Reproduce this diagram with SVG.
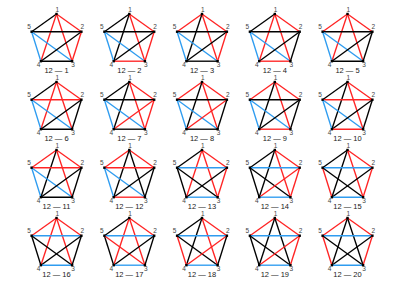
<svg xmlns="http://www.w3.org/2000/svg" xmlns:xlink="http://www.w3.org/1999/xlink" width="397" height="288" viewBox="0 0 397 288">
<style>
.k{stroke:#000;stroke-width:1.35}
.r{stroke:#ff2424;stroke-width:1.35}
.b{stroke:#2e9cf0;stroke-width:1.35}
text{font-family:"Liberation Sans",Arial,sans-serif}
.n text{font-size:6.5px;fill:#444;text-anchor:middle}
.t{font-size:7.5px;fill:#1a1a1a;text-anchor:middle}
</style>
<defs>
<line id="e15" x1="0" y1="-26" x2="-24.9" y2="-8.3"/>
<line id="e12" x1="0" y1="-26" x2="24.9" y2="-8.3"/>
<line id="e14" x1="0" y1="-26" x2="-15.6" y2="21.2"/>
<line id="e13" x1="0" y1="-26" x2="15.6" y2="21.2"/>
<line id="e52" x1="-24.9" y1="-8.3" x2="24.9" y2="-8.3"/>
<line id="e54" x1="-24.9" y1="-8.3" x2="-15.6" y2="21.2"/>
<line id="e53" x1="-24.9" y1="-8.3" x2="15.6" y2="21.2"/>
<line id="e24" x1="24.9" y1="-8.3" x2="-15.6" y2="21.2"/>
<line id="e23" x1="24.9" y1="-8.3" x2="15.6" y2="21.2"/>
<line id="e43" x1="-15.6" y1="21.2" x2="15.6" y2="21.2"/>
<rect id="v" x="-1.2" y="-1.2" width="2.4" height="2.4" fill="#000"/>
</defs>

<g id="graph-12-1" transform="translate(56.5,40)">
<g class="edges"><use href="#e15" class="k"/><use href="#e12" class="r"/><use href="#e14" class="r"/><use href="#e13" class="r"/><use href="#e52" class="k"/><use href="#e54" class="b"/><use href="#e53" class="b"/><use href="#e24" class="k"/><use href="#e23" class="r"/><use href="#e43" class="k"/></g>
<g class="n" id="g1-n1"><use href="#v" x="0" y="-26"/><text x="0.8" y="-28.5">1</text></g>
<g class="n" id="g1-n2"><use href="#v" x="24.9" y="-8.3"/><text x="25.8" y="-10.8">2</text></g>
<g class="n" id="g1-n3"><use href="#v" x="15.6" y="21.2"/><text x="16.6" y="27">3</text></g>
<g class="n" id="g1-n4"><use href="#v" x="-15.6" y="21.2"/><text x="-18" y="27">4</text></g>
<g class="n" id="g1-n5"><use href="#v" x="-24.9" y="-8.3"/><text x="-27.5" y="-10.8">5</text></g>
<text class="t" x="0" y="32.5">12 — 1</text>
</g>

<g id="graph-12-2" transform="translate(129.3,40)">
<g class="edges"><use href="#e15" class="k"/><use href="#e12" class="r"/><use href="#e14" class="k"/><use href="#e13" class="r"/><use href="#e52" class="k"/><use href="#e54" class="b"/><use href="#e53" class="b"/><use href="#e24" class="k"/><use href="#e23" class="r"/><use href="#e43" class="r"/></g>
<g class="n" id="g2-n1"><use href="#v" x="0" y="-26"/><text x="0.8" y="-28.5">1</text></g>
<g class="n" id="g2-n2"><use href="#v" x="24.9" y="-8.3"/><text x="25.8" y="-10.8">2</text></g>
<g class="n" id="g2-n3"><use href="#v" x="15.6" y="21.2"/><text x="16.6" y="27">3</text></g>
<g class="n" id="g2-n4"><use href="#v" x="-15.6" y="21.2"/><text x="-18" y="27">4</text></g>
<g class="n" id="g2-n5"><use href="#v" x="-24.9" y="-8.3"/><text x="-27.5" y="-10.8">5</text></g>
<text class="t" x="0" y="32.5">12 — 2</text>
</g>

<g id="graph-12-3" transform="translate(202,40)">
<g class="edges"><use href="#e15" class="r"/><use href="#e12" class="r"/><use href="#e14" class="k"/><use href="#e13" class="r"/><use href="#e52" class="k"/><use href="#e54" class="b"/><use href="#e53" class="b"/><use href="#e24" class="k"/><use href="#e23" class="r"/><use href="#e43" class="k"/></g>
<g class="n" id="g3-n1"><use href="#v" x="0" y="-26"/><text x="0.8" y="-28.5">1</text></g>
<g class="n" id="g3-n2"><use href="#v" x="24.9" y="-8.3"/><text x="25.8" y="-10.8">2</text></g>
<g class="n" id="g3-n3"><use href="#v" x="15.6" y="21.2"/><text x="16.6" y="27">3</text></g>
<g class="n" id="g3-n4"><use href="#v" x="-15.6" y="21.2"/><text x="-18" y="27">4</text></g>
<g class="n" id="g3-n5"><use href="#v" x="-24.9" y="-8.3"/><text x="-27.5" y="-10.8">5</text></g>
<text class="t" x="0" y="32.5">12 — 3</text>
</g>

<g id="graph-12-4" transform="translate(274.8,40)">
<g class="edges"><use href="#e15" class="k"/><use href="#e12" class="r"/><use href="#e14" class="r"/><use href="#e13" class="r"/><use href="#e52" class="k"/><use href="#e54" class="b"/><use href="#e53" class="b"/><use href="#e24" class="k"/><use href="#e23" class="k"/><use href="#e43" class="r"/></g>
<g class="n" id="g4-n1"><use href="#v" x="0" y="-26"/><text x="0.8" y="-28.5">1</text></g>
<g class="n" id="g4-n2"><use href="#v" x="24.9" y="-8.3"/><text x="25.8" y="-10.8">2</text></g>
<g class="n" id="g4-n3"><use href="#v" x="15.6" y="21.2"/><text x="16.6" y="27">3</text></g>
<g class="n" id="g4-n4"><use href="#v" x="-15.6" y="21.2"/><text x="-18" y="27">4</text></g>
<g class="n" id="g4-n5"><use href="#v" x="-24.9" y="-8.3"/><text x="-27.5" y="-10.8">5</text></g>
<text class="t" x="0" y="32.5">12 — 4</text>
</g>

<g id="graph-12-5" transform="translate(347.5,40)">
<g class="edges"><use href="#e15" class="r"/><use href="#e12" class="r"/><use href="#e14" class="r"/><use href="#e13" class="r"/><use href="#e52" class="k"/><use href="#e54" class="b"/><use href="#e53" class="b"/><use href="#e24" class="k"/><use href="#e23" class="k"/><use href="#e43" class="k"/></g>
<g class="n" id="g5-n1"><use href="#v" x="0" y="-26"/><text x="0.8" y="-28.5">1</text></g>
<g class="n" id="g5-n2"><use href="#v" x="24.9" y="-8.3"/><text x="25.8" y="-10.8">2</text></g>
<g class="n" id="g5-n3"><use href="#v" x="15.6" y="21.2"/><text x="16.6" y="27">3</text></g>
<g class="n" id="g5-n4"><use href="#v" x="-15.6" y="21.2"/><text x="-18" y="27">4</text></g>
<g class="n" id="g5-n5"><use href="#v" x="-24.9" y="-8.3"/><text x="-27.5" y="-10.8">5</text></g>
<text class="t" x="0" y="32.5">12 — 5</text>
</g>

<g id="graph-12-6" transform="translate(56.5,108)">
<g class="edges"><use href="#e15" class="k"/><use href="#e12" class="r"/><use href="#e14" class="r"/><use href="#e13" class="r"/><use href="#e52" class="r"/><use href="#e54" class="b"/><use href="#e53" class="b"/><use href="#e24" class="k"/><use href="#e23" class="k"/><use href="#e43" class="k"/></g>
<g class="n" id="g6-n1"><use href="#v" x="0" y="-26"/><text x="0.8" y="-28.5">1</text></g>
<g class="n" id="g6-n2"><use href="#v" x="24.9" y="-8.3"/><text x="25.8" y="-10.8">2</text></g>
<g class="n" id="g6-n3"><use href="#v" x="15.6" y="21.2"/><text x="16.6" y="27">3</text></g>
<g class="n" id="g6-n4"><use href="#v" x="-15.6" y="21.2"/><text x="-18" y="27">4</text></g>
<g class="n" id="g6-n5"><use href="#v" x="-24.9" y="-8.3"/><text x="-27.5" y="-10.8">5</text></g>
<text class="t" x="0" y="32.5">12 — 6</text>
</g>

<g id="graph-12-7" transform="translate(129.3,108)">
<g class="edges"><use href="#e15" class="k"/><use href="#e12" class="r"/><use href="#e14" class="k"/><use href="#e13" class="r"/><use href="#e52" class="k"/><use href="#e54" class="b"/><use href="#e53" class="b"/><use href="#e24" class="r"/><use href="#e23" class="r"/><use href="#e43" class="k"/></g>
<g class="n" id="g7-n1"><use href="#v" x="0" y="-26"/><text x="0.8" y="-28.5">1</text></g>
<g class="n" id="g7-n2"><use href="#v" x="24.9" y="-8.3"/><text x="25.8" y="-10.8">2</text></g>
<g class="n" id="g7-n3"><use href="#v" x="15.6" y="21.2"/><text x="16.6" y="27">3</text></g>
<g class="n" id="g7-n4"><use href="#v" x="-15.6" y="21.2"/><text x="-18" y="27">4</text></g>
<g class="n" id="g7-n5"><use href="#v" x="-24.9" y="-8.3"/><text x="-27.5" y="-10.8">5</text></g>
<text class="t" x="0" y="32.5">12 — 7</text>
</g>

<g id="graph-12-8" transform="translate(202,108)">
<g class="edges"><use href="#e15" class="r"/><use href="#e12" class="r"/><use href="#e14" class="k"/><use href="#e13" class="r"/><use href="#e52" class="k"/><use href="#e54" class="b"/><use href="#e53" class="b"/><use href="#e24" class="r"/><use href="#e23" class="k"/><use href="#e43" class="k"/></g>
<g class="n" id="g8-n1"><use href="#v" x="0" y="-26"/><text x="0.8" y="-28.5">1</text></g>
<g class="n" id="g8-n2"><use href="#v" x="24.9" y="-8.3"/><text x="25.8" y="-10.8">2</text></g>
<g class="n" id="g8-n3"><use href="#v" x="15.6" y="21.2"/><text x="16.6" y="27">3</text></g>
<g class="n" id="g8-n4"><use href="#v" x="-15.6" y="21.2"/><text x="-18" y="27">4</text></g>
<g class="n" id="g8-n5"><use href="#v" x="-24.9" y="-8.3"/><text x="-27.5" y="-10.8">5</text></g>
<text class="t" x="0" y="32.5">12 — 8</text>
</g>

<g id="graph-12-9" transform="translate(274.8,108)">
<g class="edges"><use href="#e15" class="r"/><use href="#e12" class="r"/><use href="#e14" class="k"/><use href="#e13" class="r"/><use href="#e52" class="k"/><use href="#e54" class="b"/><use href="#e53" class="b"/><use href="#e24" class="k"/><use href="#e23" class="k"/><use href="#e43" class="r"/></g>
<g class="n" id="g9-n1"><use href="#v" x="0" y="-26"/><text x="0.8" y="-28.5">1</text></g>
<g class="n" id="g9-n2"><use href="#v" x="24.9" y="-8.3"/><text x="25.8" y="-10.8">2</text></g>
<g class="n" id="g9-n3"><use href="#v" x="15.6" y="21.2"/><text x="16.6" y="27">3</text></g>
<g class="n" id="g9-n4"><use href="#v" x="-15.6" y="21.2"/><text x="-18" y="27">4</text></g>
<g class="n" id="g9-n5"><use href="#v" x="-24.9" y="-8.3"/><text x="-27.5" y="-10.8">5</text></g>
<text class="t" x="0" y="32.5">12 — 9</text>
</g>

<g id="graph-12-10" transform="translate(347.5,108)">
<g class="edges"><use href="#e15" class="k"/><use href="#e12" class="r"/><use href="#e14" class="k"/><use href="#e13" class="r"/><use href="#e52" class="r"/><use href="#e54" class="b"/><use href="#e53" class="b"/><use href="#e24" class="k"/><use href="#e23" class="k"/><use href="#e43" class="r"/></g>
<g class="n" id="g10-n1"><use href="#v" x="0" y="-26"/><text x="0.8" y="-28.5">1</text></g>
<g class="n" id="g10-n2"><use href="#v" x="24.9" y="-8.3"/><text x="25.8" y="-10.8">2</text></g>
<g class="n" id="g10-n3"><use href="#v" x="15.6" y="21.2"/><text x="16.6" y="27">3</text></g>
<g class="n" id="g10-n4"><use href="#v" x="-15.6" y="21.2"/><text x="-18" y="27">4</text></g>
<g class="n" id="g10-n5"><use href="#v" x="-24.9" y="-8.3"/><text x="-27.5" y="-10.8">5</text></g>
<text class="t" x="0" y="32.5">12 — 10</text>
</g>

<g id="graph-12-11" transform="translate(56.5,176)">
<g class="edges"><use href="#e15" class="r"/><use href="#e12" class="r"/><use href="#e14" class="k"/><use href="#e13" class="r"/><use href="#e52" class="r"/><use href="#e54" class="b"/><use href="#e53" class="b"/><use href="#e24" class="k"/><use href="#e23" class="k"/><use href="#e43" class="k"/></g>
<g class="n" id="g11-n1"><use href="#v" x="0" y="-26"/><text x="0.8" y="-28.5">1</text></g>
<g class="n" id="g11-n2"><use href="#v" x="24.9" y="-8.3"/><text x="25.8" y="-10.8">2</text></g>
<g class="n" id="g11-n3"><use href="#v" x="15.6" y="21.2"/><text x="16.6" y="27">3</text></g>
<g class="n" id="g11-n4"><use href="#v" x="-15.6" y="21.2"/><text x="-18" y="27">4</text></g>
<g class="n" id="g11-n5"><use href="#v" x="-24.9" y="-8.3"/><text x="-27.5" y="-10.8">5</text></g>
<text class="t" x="0" y="32.5">12 — 11</text>
</g>

<g id="graph-12-12" transform="translate(129.3,176)">
<g class="edges"><use href="#e15" class="r"/><use href="#e12" class="r"/><use href="#e14" class="k"/><use href="#e13" class="k"/><use href="#e52" class="r"/><use href="#e54" class="b"/><use href="#e53" class="b"/><use href="#e24" class="k"/><use href="#e23" class="k"/><use href="#e43" class="r"/></g>
<g class="n" id="g12-n1"><use href="#v" x="0" y="-26"/><text x="0.8" y="-28.5">1</text></g>
<g class="n" id="g12-n2"><use href="#v" x="24.9" y="-8.3"/><text x="25.8" y="-10.8">2</text></g>
<g class="n" id="g12-n3"><use href="#v" x="15.6" y="21.2"/><text x="16.6" y="27">3</text></g>
<g class="n" id="g12-n4"><use href="#v" x="-15.6" y="21.2"/><text x="-18" y="27">4</text></g>
<g class="n" id="g12-n5"><use href="#v" x="-24.9" y="-8.3"/><text x="-27.5" y="-10.8">5</text></g>
<text class="t" x="0" y="32.5">12 — 12</text>
</g>

<g id="graph-12-13" transform="translate(202,176)">
<g class="edges"><use href="#e15" class="k"/><use href="#e12" class="r"/><use href="#e14" class="r"/><use href="#e13" class="r"/><use href="#e52" class="b"/><use href="#e54" class="k"/><use href="#e53" class="k"/><use href="#e24" class="k"/><use href="#e23" class="r"/><use href="#e43" class="b"/></g>
<g class="n" id="g13-n1"><use href="#v" x="0" y="-26"/><text x="0.8" y="-28.5">1</text></g>
<g class="n" id="g13-n2"><use href="#v" x="24.9" y="-8.3"/><text x="25.8" y="-10.8">2</text></g>
<g class="n" id="g13-n3"><use href="#v" x="15.6" y="21.2"/><text x="16.6" y="27">3</text></g>
<g class="n" id="g13-n4"><use href="#v" x="-15.6" y="21.2"/><text x="-18" y="27">4</text></g>
<g class="n" id="g13-n5"><use href="#v" x="-24.9" y="-8.3"/><text x="-27.5" y="-10.8">5</text></g>
<text class="t" x="0" y="32.5">12 — 13</text>
</g>

<g id="graph-12-14" transform="translate(274.8,176)">
<g class="edges"><use href="#e15" class="k"/><use href="#e12" class="r"/><use href="#e14" class="k"/><use href="#e13" class="r"/><use href="#e52" class="b"/><use href="#e54" class="k"/><use href="#e53" class="k"/><use href="#e24" class="r"/><use href="#e23" class="r"/><use href="#e43" class="b"/></g>
<g class="n" id="g14-n1"><use href="#v" x="0" y="-26"/><text x="0.8" y="-28.5">1</text></g>
<g class="n" id="g14-n2"><use href="#v" x="24.9" y="-8.3"/><text x="25.8" y="-10.8">2</text></g>
<g class="n" id="g14-n3"><use href="#v" x="15.6" y="21.2"/><text x="16.6" y="27">3</text></g>
<g class="n" id="g14-n4"><use href="#v" x="-15.6" y="21.2"/><text x="-18" y="27">4</text></g>
<g class="n" id="g14-n5"><use href="#v" x="-24.9" y="-8.3"/><text x="-27.5" y="-10.8">5</text></g>
<text class="t" x="0" y="32.5">12 — 14</text>
</g>

<g id="graph-12-15" transform="translate(347.5,176)">
<g class="edges"><use href="#e15" class="k"/><use href="#e12" class="r"/><use href="#e14" class="k"/><use href="#e13" class="r"/><use href="#e52" class="b"/><use href="#e54" class="r"/><use href="#e53" class="k"/><use href="#e24" class="k"/><use href="#e23" class="r"/><use href="#e43" class="b"/></g>
<g class="n" id="g15-n1"><use href="#v" x="0" y="-26"/><text x="0.8" y="-28.5">1</text></g>
<g class="n" id="g15-n2"><use href="#v" x="24.9" y="-8.3"/><text x="25.8" y="-10.8">2</text></g>
<g class="n" id="g15-n3"><use href="#v" x="15.6" y="21.2"/><text x="16.6" y="27">3</text></g>
<g class="n" id="g15-n4"><use href="#v" x="-15.6" y="21.2"/><text x="-18" y="27">4</text></g>
<g class="n" id="g15-n5"><use href="#v" x="-24.9" y="-8.3"/><text x="-27.5" y="-10.8">5</text></g>
<text class="t" x="0" y="32.5">12 — 15</text>
</g>

<g id="graph-12-16" transform="translate(56.5,244)">
<g class="edges"><use href="#e15" class="r"/><use href="#e12" class="r"/><use href="#e14" class="r"/><use href="#e13" class="r"/><use href="#e52" class="b"/><use href="#e54" class="k"/><use href="#e53" class="k"/><use href="#e24" class="k"/><use href="#e23" class="k"/><use href="#e43" class="b"/></g>
<g class="n" id="g16-n1"><use href="#v" x="0" y="-26"/><text x="0.8" y="-28.5">1</text></g>
<g class="n" id="g16-n2"><use href="#v" x="24.9" y="-8.3"/><text x="25.8" y="-10.8">2</text></g>
<g class="n" id="g16-n3"><use href="#v" x="15.6" y="21.2"/><text x="16.6" y="27">3</text></g>
<g class="n" id="g16-n4"><use href="#v" x="-15.6" y="21.2"/><text x="-18" y="27">4</text></g>
<g class="n" id="g16-n5"><use href="#v" x="-24.9" y="-8.3"/><text x="-27.5" y="-10.8">5</text></g>
<text class="t" x="0" y="32.5">12 — 16</text>
</g>

<g id="graph-12-17" transform="translate(129.3,244)">
<g class="edges"><use href="#e15" class="k"/><use href="#e12" class="r"/><use href="#e14" class="r"/><use href="#e13" class="r"/><use href="#e52" class="b"/><use href="#e54" class="k"/><use href="#e53" class="r"/><use href="#e24" class="k"/><use href="#e23" class="k"/><use href="#e43" class="b"/></g>
<g class="n" id="g17-n1"><use href="#v" x="0" y="-26"/><text x="0.8" y="-28.5">1</text></g>
<g class="n" id="g17-n2"><use href="#v" x="24.9" y="-8.3"/><text x="25.8" y="-10.8">2</text></g>
<g class="n" id="g17-n3"><use href="#v" x="15.6" y="21.2"/><text x="16.6" y="27">3</text></g>
<g class="n" id="g17-n4"><use href="#v" x="-15.6" y="21.2"/><text x="-18" y="27">4</text></g>
<g class="n" id="g17-n5"><use href="#v" x="-24.9" y="-8.3"/><text x="-27.5" y="-10.8">5</text></g>
<text class="t" x="0" y="32.5">12 — 17</text>
</g>

<g id="graph-12-18" transform="translate(202,244)">
<g class="edges"><use href="#e15" class="k"/><use href="#e12" class="r"/><use href="#e14" class="k"/><use href="#e13" class="r"/><use href="#e52" class="b"/><use href="#e54" class="r"/><use href="#e53" class="k"/><use href="#e24" class="r"/><use href="#e23" class="k"/><use href="#e43" class="b"/></g>
<g class="n" id="g18-n1"><use href="#v" x="0" y="-26"/><text x="0.8" y="-28.5">1</text></g>
<g class="n" id="g18-n2"><use href="#v" x="24.9" y="-8.3"/><text x="25.8" y="-10.8">2</text></g>
<g class="n" id="g18-n3"><use href="#v" x="15.6" y="21.2"/><text x="16.6" y="27">3</text></g>
<g class="n" id="g18-n4"><use href="#v" x="-15.6" y="21.2"/><text x="-18" y="27">4</text></g>
<g class="n" id="g18-n5"><use href="#v" x="-24.9" y="-8.3"/><text x="-27.5" y="-10.8">5</text></g>
<text class="t" x="0" y="32.5">12 — 18</text>
</g>

<g id="graph-12-19" transform="translate(274.8,244)">
<g class="edges"><use href="#e15" class="r"/><use href="#e12" class="r"/><use href="#e14" class="k"/><use href="#e13" class="k"/><use href="#e52" class="b"/><use href="#e54" class="k"/><use href="#e53" class="k"/><use href="#e24" class="r"/><use href="#e23" class="r"/><use href="#e43" class="b"/></g>
<g class="n" id="g19-n1"><use href="#v" x="0" y="-26"/><text x="0.8" y="-28.5">1</text></g>
<g class="n" id="g19-n2"><use href="#v" x="24.9" y="-8.3"/><text x="25.8" y="-10.8">2</text></g>
<g class="n" id="g19-n3"><use href="#v" x="15.6" y="21.2"/><text x="16.6" y="27">3</text></g>
<g class="n" id="g19-n4"><use href="#v" x="-15.6" y="21.2"/><text x="-18" y="27">4</text></g>
<g class="n" id="g19-n5"><use href="#v" x="-24.9" y="-8.3"/><text x="-27.5" y="-10.8">5</text></g>
<text class="t" x="0" y="32.5">12 — 19</text>
</g>

<g id="graph-12-20" transform="translate(347.5,244)">
<g class="edges"><use href="#e15" class="r"/><use href="#e12" class="r"/><use href="#e14" class="k"/><use href="#e13" class="k"/><use href="#e52" class="b"/><use href="#e54" class="r"/><use href="#e53" class="k"/><use href="#e24" class="k"/><use href="#e23" class="r"/><use href="#e43" class="b"/></g>
<g class="n" id="g20-n1"><use href="#v" x="0" y="-26"/><text x="0.8" y="-28.5">1</text></g>
<g class="n" id="g20-n2"><use href="#v" x="24.9" y="-8.3"/><text x="25.8" y="-10.8">2</text></g>
<g class="n" id="g20-n3"><use href="#v" x="15.6" y="21.2"/><text x="16.6" y="27">3</text></g>
<g class="n" id="g20-n4"><use href="#v" x="-15.6" y="21.2"/><text x="-18" y="27">4</text></g>
<g class="n" id="g20-n5"><use href="#v" x="-24.9" y="-8.3"/><text x="-27.5" y="-10.8">5</text></g>
<text class="t" x="0" y="32.5">12 — 20</text>
</g>
</svg>
